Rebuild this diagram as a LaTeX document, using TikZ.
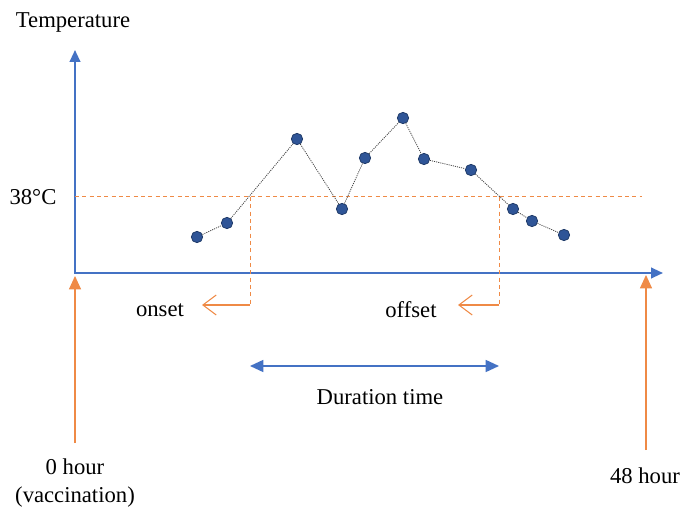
\documentclass[tikz,border=0pt]{standalone}
\usepackage{fontspec}
\setmainfont{Liberation Serif}
\usetikzlibrary{arrows.meta,positioning}
\definecolor{axisblue}{HTML}{4472C4}
\definecolor{dotblue}{HTML}{2F5597}
\definecolor{fevorange}{HTML}{ED7D31}

\begin{document}
\begin{tikzpicture}[x=0.75pt,y=-0.75pt,
  every node/.style={font=\fontsize{17}{21}\selectfont},
  pt/.style={circle,fill=dotblue,draw=dotblue!70!black,line width=0.6pt,inner sep=0pt,minimum size=8.5pt},
  axisline/.style={axisblue,line width=1.5pt,
    {Triangle[length=9pt,width=8pt]}-{Triangle[length=9pt,width=8pt]}},
  thresh/.style={fevorange!90,line width=0.75pt,dash pattern=on 3pt off 2.5pt},
  marker/.style={fevorange!90,line width=0.8pt,-{Straight Barb[length=10pt,width=15pt]}},
  durarrow/.style={axisblue,line width=1.2pt,
    {Triangle[length=10pt,width=9pt]}-{Triangle[length=10pt,width=9pt]}},
  hourarrow/.style={fevorange!90,line width=0.8pt,-{Triangle[length=10pt,width=9pt]}},
  trend/.style={black!75,line width=0.6pt,dash pattern=on 0.8pt off 0.8pt}]
 \useasboundingbox (0,0) rectangle (687,510);

 % axes
 \coordinate (O) at (75,273);
 \coordinate (ytip) at (75,50);
 \coordinate (xtip) at (663,273);
 \draw[axisline] (ytip) -- (O) -- (xtip);
 \node (temp) at (73,22) {Temperature};

 % 38 degree threshold
 \node (deg) at (33,197) {38°C};
 \coordinate (th0) at (75,197);
 \coordinate (th1) at (642,197);
 \draw[thresh] (th0) -- (th1);

 % measurements
 \foreach \i/\x/\y in {1/197/237,2/227/223,3/297/139,4/342/209,5/365/158,
                       6/403/118,7/424/159,8/471/170,9/513/209,10/532/221,11/564/235}
   \node[pt] (p\i) at (\x,\y) {};
 \foreach \i [count=\j] in {2,...,11}
   \draw[trend] (p\j) -- (p\i);

 % onset / offset
 \coordinate (on) at (250,197);
 \coordinate (onc) at (250,305);
 \coordinate (ontip) at (202,305);
 \draw[thresh] (on) -- (onc);
 \draw[marker] (onc) -- (ontip);
 \node (onset) at (160,310) {onset};

 \coordinate (off) at (499,197);
 \coordinate (offc) at (499,305);
 \coordinate (offtip) at (458,305);
 \draw[thresh] (off) -- (offc);
 \draw[marker] (offc) -- (offtip);
 \node (offset) at (411,310) {offset};

 % duration
 \coordinate (ds) at (250,366);
 \coordinate (de) at (499,366);
 \draw[durarrow] (ds) -- (de);
 \node (dur) at (380,397) {Duration time};

 % time marks
 \coordinate (h0b) at (75,443);
 \coordinate (h0t) at (75,276);
 \draw[hourarrow] (h0b) -- (h0t);
 \node[align=center] (h0) at (75,483) {0 hour\\(vaccination)};

 \coordinate (h48b) at (646,450);
 \coordinate (h48t) at (646,275);
 \draw[hourarrow] (h48b) -- (h48t);
 \node (h48) at (645,476) {48 hour};
\end{tikzpicture}
\end{document}
